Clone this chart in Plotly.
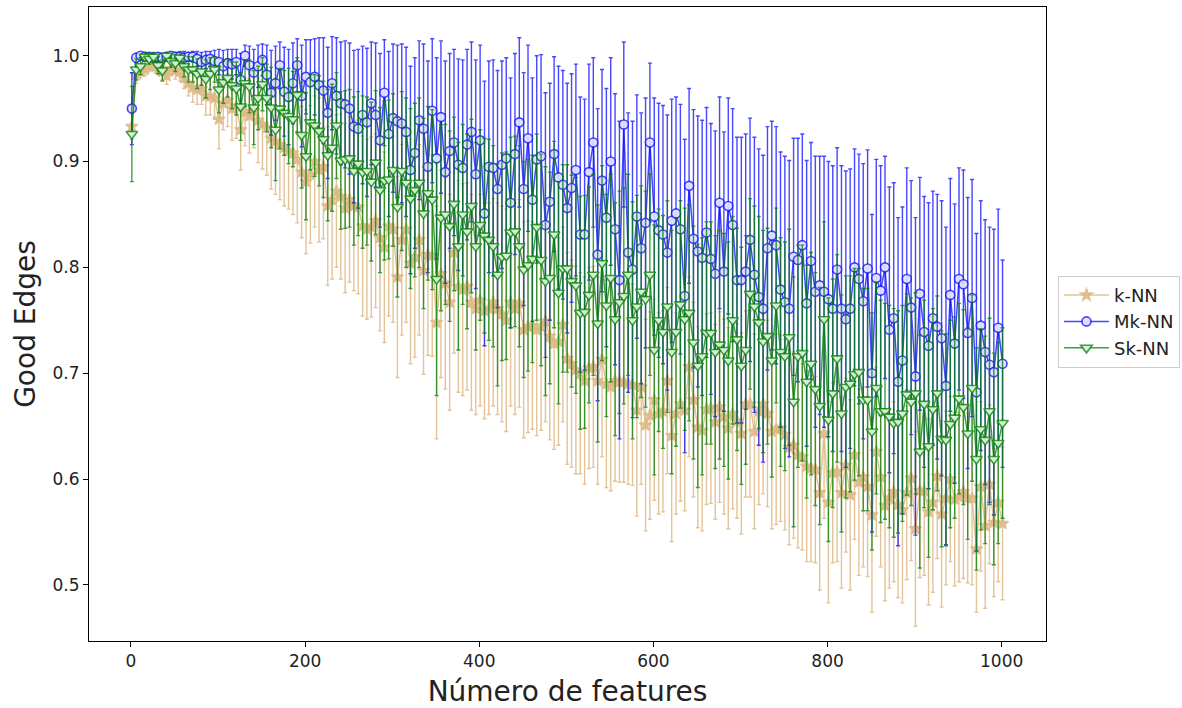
import plotly.graph_objects as go

# Number of features evaluated (every 5 features, from 1 to 1001)
n_features = list(range(1, 1002, 5))

# k-NN: mean fraction of good edges and standard deviation
knn_mean = [
    0.933, 0.982, 0.985, 0.987, 0.990, 0.991, 0.988, 0.985, 0.981, 0.988,
    0.986, 0.985, 0.979, 0.974, 0.970, 0.968, 0.969, 0.962, 0.962, 0.960,
    0.940, 0.955, 0.958, 0.950, 0.952, 0.930, 0.947, 0.943, 0.948, 0.939,
    0.935, 0.932, 0.922, 0.919, 0.916, 0.913, 0.910, 0.908, 0.902, 0.890,
    0.881, 0.888, 0.900, 0.892, 0.895, 0.858, 0.864, 0.872, 0.867, 0.856,
    0.864, 0.858, 0.857, 0.839, 0.836, 0.838, 0.844, 0.828, 0.819, 0.839,
    0.836, 0.791, 0.826, 0.836, 0.804, 0.810, 0.826, 0.797, 0.812, 0.811,
    0.748, 0.794, 0.785, 0.767, 0.814, 0.782, 0.779, 0.782, 0.767, 0.761,
    0.769, 0.759, 0.761, 0.767, 0.761, 0.756, 0.750, 0.767, 0.761, 0.766,
    0.741, 0.744, 0.745, 0.741, 0.744, 0.749, 0.735, 0.728, 0.730, 0.746,
    0.714, 0.709, 0.703, 0.700, 0.693, 0.705, 0.706, 0.693, 0.713, 0.690,
    0.687, 0.693, 0.692, 0.692, 0.690, 0.689, 0.665, 0.687, 0.651, 0.660,
    0.675, 0.662, 0.664, 0.693, 0.641, 0.662, 0.671, 0.665, 0.706, 0.675,
    0.649, 0.646, 0.666, 0.667, 0.654, 0.668, 0.659, 0.648, 0.662, 0.655,
    0.643, 0.671, 0.671, 0.645, 0.664, 0.671, 0.662, 0.645, 0.647, 0.648,
    0.642, 0.630, 0.632, 0.623, 0.621, 0.612, 0.610, 0.609, 0.587, 0.643,
    0.578, 0.606, 0.607, 0.587, 0.613, 0.585, 0.623, 0.597, 0.602, 0.593,
    0.566, 0.626, 0.602, 0.575, 0.582, 0.588, 0.576, 0.571, 0.587, 0.601,
    0.553, 0.589, 0.589, 0.569, 0.578, 0.603, 0.567, 0.582, 0.600, 0.581,
    0.583, 0.588, 0.582, 0.582, 0.534, 0.593, 0.556, 0.595, 0.559, 0.578,
    0.558,
]
knn_std = [
    0.012, 0.008, 0.006, 0.006, 0.005, 0.005, 0.006, 0.008, 0.008, 0.007,
    0.008, 0.009, 0.010, 0.012, 0.014, 0.014, 0.015, 0.018, 0.018, 0.020,
    0.028, 0.025, 0.025, 0.030, 0.030, 0.038, 0.032, 0.035, 0.035, 0.040,
    0.042, 0.045, 0.048, 0.050, 0.052, 0.055, 0.055, 0.058, 0.060, 0.062,
    0.068, 0.065, 0.062, 0.068, 0.068, 0.075, 0.075, 0.072, 0.078, 0.080,
    0.078, 0.080, 0.082, 0.085, 0.085, 0.085, 0.082, 0.088, 0.090, 0.085,
    0.088, 0.095, 0.090, 0.088, 0.095, 0.095, 0.090, 0.098, 0.095, 0.095,
    0.110, 0.098, 0.100, 0.102, 0.095, 0.100, 0.100, 0.098, 0.102, 0.100,
    0.100, 0.102, 0.100, 0.098, 0.100, 0.102, 0.105, 0.098, 0.100, 0.098,
    0.102, 0.100, 0.098, 0.100, 0.098, 0.095, 0.098, 0.100, 0.098, 0.092,
    0.100, 0.098, 0.098, 0.095, 0.098, 0.095, 0.095, 0.098, 0.092, 0.098,
    0.098, 0.095, 0.095, 0.095, 0.095, 0.095, 0.100, 0.092, 0.100, 0.098,
    0.095, 0.095, 0.095, 0.088, 0.100, 0.095, 0.092, 0.095, 0.085, 0.092,
    0.095, 0.095, 0.090, 0.090, 0.092, 0.090, 0.092, 0.095, 0.090, 0.092,
    0.095, 0.088, 0.088, 0.092, 0.088, 0.085, 0.088, 0.092, 0.090, 0.088,
    0.090, 0.092, 0.088, 0.088, 0.088, 0.090, 0.088, 0.088, 0.092, 0.080,
    0.095, 0.085, 0.085, 0.090, 0.082, 0.090, 0.080, 0.088, 0.085, 0.085,
    0.092, 0.080, 0.085, 0.090, 0.085, 0.085, 0.088, 0.088, 0.082, 0.078,
    0.092, 0.082, 0.080, 0.088, 0.085, 0.078, 0.088, 0.082, 0.078, 0.082,
    0.080, 0.082, 0.080, 0.082, 0.060, 0.080, 0.078, 0.075, 0.070, 0.075,
    0.072,
]

# Mk-NN
mknn_mean = [
    0.950, 0.998, 1.000, 0.999, 0.999, 0.998, 0.999, 0.998, 0.999, 1.000,
    0.999, 0.999, 0.998, 0.999, 0.999, 0.997, 0.994, 0.996, 0.997, 0.995,
    0.994, 0.990, 0.993, 0.992, 0.994, 0.977, 1.000, 0.991, 0.984, 0.990,
    0.996, 0.982, 0.965, 0.974, 0.991, 0.966, 0.961, 0.974, 0.991, 0.962,
    0.980, 0.975, 0.980, 0.972, 0.967, 0.946, 0.974, 0.962, 0.955, 0.954,
    0.950, 0.933, 0.931, 0.944, 0.937, 0.955, 0.944, 0.920, 0.965, 0.926,
    0.941, 0.938, 0.936, 0.928, 0.892, 0.908, 0.939, 0.931, 0.895, 0.948,
    0.903, 0.942, 0.890, 0.910, 0.918, 0.897, 0.894, 0.916, 0.928, 0.888,
    0.920, 0.851, 0.895, 0.894, 0.874, 0.897, 0.903, 0.861, 0.907, 0.937,
    0.874, 0.922, 0.864, 0.902, 0.905, 0.840, 0.862, 0.907, 0.885, 0.878,
    0.856, 0.875, 0.892, 0.831, 0.831, 0.890, 0.918, 0.812, 0.882, 0.847,
    0.900, 0.836, 0.788, 0.935, 0.814, 0.798, 0.848, 0.818, 0.842, 0.918,
    0.848, 0.835, 0.831, 0.814, 0.844, 0.851, 0.836, 0.773, 0.877, 0.827,
    0.815, 0.809, 0.833, 0.808, 0.794, 0.861, 0.796, 0.858, 0.840, 0.788,
    0.788, 0.796, 0.826, 0.793, 0.772, 0.761, 0.818, 0.830, 0.821, 0.779,
    0.767, 0.761, 0.810, 0.807, 0.821, 0.766, 0.806, 0.777, 0.783, 0.777,
    0.770, 0.761, 0.798, 0.761, 0.751, 0.761, 0.800, 0.789, 0.768, 0.799,
    0.700, 0.790, 0.778, 0.800, 0.741, 0.752, 0.692, 0.712, 0.789, 0.762,
    0.697, 0.775, 0.739, 0.726, 0.752, 0.744, 0.733, 0.688, 0.774, 0.728,
    0.789, 0.784, 0.738, 0.771, 0.682, 0.745, 0.720, 0.708, 0.701, 0.743,
    0.709,
]
mknn_std = [
    0.034, 0.004, 0.002, 0.003, 0.003, 0.004, 0.003, 0.004, 0.003, 0.002,
    0.004, 0.004, 0.006, 0.004, 0.005, 0.007, 0.009, 0.008, 0.007, 0.010,
    0.012, 0.015, 0.013, 0.014, 0.012, 0.025, 0.010, 0.018, 0.022, 0.020,
    0.015, 0.028, 0.040, 0.035, 0.022, 0.042, 0.045, 0.038, 0.025, 0.048,
    0.035, 0.040, 0.036, 0.045, 0.050, 0.062, 0.044, 0.055, 0.058, 0.060,
    0.062, 0.072, 0.075, 0.065, 0.070, 0.058, 0.068, 0.082, 0.050, 0.078,
    0.070, 0.072, 0.075, 0.080, 0.098, 0.090, 0.075, 0.080, 0.100, 0.068,
    0.095, 0.072, 0.105, 0.092, 0.088, 0.100, 0.102, 0.090, 0.085, 0.108,
    0.090, 0.125, 0.100, 0.102, 0.112, 0.098, 0.095, 0.118, 0.095, 0.080,
    0.110, 0.088, 0.115, 0.098, 0.096, 0.125, 0.112, 0.092, 0.105, 0.108,
    0.118, 0.108, 0.100, 0.130, 0.128, 0.102, 0.080, 0.138, 0.105, 0.122,
    0.098, 0.128, 0.150, 0.078, 0.132, 0.140, 0.115, 0.128, 0.118, 0.075,
    0.112, 0.120, 0.122, 0.130, 0.115, 0.110, 0.118, 0.148, 0.092, 0.122,
    0.128, 0.130, 0.118, 0.128, 0.135, 0.100, 0.132, 0.102, 0.110, 0.135,
    0.135, 0.130, 0.115, 0.130, 0.140, 0.145, 0.115, 0.108, 0.112, 0.130,
    0.138, 0.140, 0.112, 0.115, 0.105, 0.135, 0.112, 0.128, 0.122, 0.128,
    0.130, 0.135, 0.115, 0.135, 0.140, 0.132, 0.112, 0.118, 0.130, 0.112,
    0.150, 0.112, 0.118, 0.105, 0.135, 0.128, 0.155, 0.145, 0.105, 0.120,
    0.150, 0.110, 0.128, 0.135, 0.120, 0.125, 0.130, 0.150, 0.110, 0.132,
    0.105, 0.108, 0.128, 0.112, 0.150, 0.118, 0.125, 0.130, 0.135, 0.112,
    0.098,
]

# Sk-NN
sknn_mean = [
    0.926, 0.987, 0.990, 0.999, 0.997, 0.999, 0.991, 0.986, 1.000, 0.995,
    0.993, 0.998, 0.990, 0.987, 0.987, 0.983, 0.985, 0.978, 0.983, 0.987,
    0.968, 0.975, 0.979, 0.972, 0.969, 0.952, 0.974, 0.971, 0.951, 0.960,
    0.973, 0.960, 0.951, 0.930, 0.950, 0.946, 0.943, 0.940, 0.963, 0.925,
    0.905, 0.937, 0.934, 0.929, 0.921, 0.906, 0.913, 0.934, 0.901, 0.902,
    0.903, 0.891, 0.898, 0.890, 0.891, 0.881, 0.899, 0.873, 0.882, 0.883,
    0.892, 0.857, 0.891, 0.880, 0.865, 0.873, 0.880, 0.851, 0.870, 0.864,
    0.789, 0.847, 0.850, 0.839, 0.860, 0.820, 0.850, 0.834, 0.858, 0.820,
    0.840, 0.830, 0.826, 0.820, 0.793, 0.810, 0.811, 0.833, 0.834, 0.820,
    0.798, 0.802, 0.808, 0.838, 0.807, 0.787, 0.790, 0.831, 0.776, 0.799,
    0.799, 0.787, 0.783, 0.757, 0.758, 0.774, 0.793, 0.747, 0.804, 0.764,
    0.790, 0.751, 0.767, 0.773, 0.793, 0.750, 0.763, 0.777, 0.770, 0.793,
    0.722, 0.750, 0.739, 0.763, 0.720, 0.739, 0.765, 0.751, 0.757, 0.729,
    0.707, 0.716, 0.738, 0.738, 0.720, 0.727, 0.722, 0.712, 0.750, 0.732,
    0.707, 0.722, 0.775, 0.763, 0.748, 0.730, 0.735, 0.712, 0.764, 0.720,
    0.716, 0.734, 0.673, 0.716, 0.719, 0.692, 0.709, 0.685, 0.669, 0.751,
    0.656, 0.681, 0.714, 0.662, 0.687, 0.690, 0.699, 0.701, 0.675, 0.675,
    0.645, 0.686, 0.664, 0.664, 0.659, 0.653, 0.654, 0.662, 0.680, 0.673,
    0.681, 0.626, 0.671, 0.631, 0.666, 0.681, 0.638, 0.637, 0.652, 0.658,
    0.676, 0.668, 0.643, 0.686, 0.619, 0.647, 0.637, 0.664, 0.619, 0.634,
    0.653,
]
sknn_std = [
    0.045, 0.010, 0.008, 0.004, 0.005, 0.004, 0.008, 0.010, 0.003, 0.006,
    0.008, 0.006, 0.010, 0.012, 0.012, 0.014, 0.013, 0.018, 0.015, 0.012,
    0.022, 0.020, 0.018, 0.022, 0.025, 0.032, 0.022, 0.025, 0.035, 0.030,
    0.025, 0.032, 0.038, 0.048, 0.038, 0.040, 0.045, 0.045, 0.035, 0.050,
    0.060, 0.045, 0.048, 0.052, 0.055, 0.062, 0.060, 0.050, 0.065, 0.065,
    0.065, 0.070, 0.068, 0.072, 0.070, 0.075, 0.068, 0.078, 0.075, 0.075,
    0.072, 0.085, 0.075, 0.080, 0.085, 0.082, 0.080, 0.090, 0.082, 0.085,
    0.110, 0.088, 0.085, 0.090, 0.082, 0.098, 0.085, 0.092, 0.082, 0.098,
    0.090, 0.092, 0.095, 0.095, 0.105, 0.098, 0.098, 0.090, 0.090, 0.095,
    0.102, 0.100, 0.098, 0.088, 0.100, 0.108, 0.100, 0.088, 0.105, 0.098,
    0.098, 0.100, 0.102, 0.110, 0.110, 0.102, 0.095, 0.112, 0.092, 0.105,
    0.098, 0.110, 0.105, 0.102, 0.095, 0.112, 0.105, 0.100, 0.102, 0.095,
    0.118, 0.105, 0.110, 0.100, 0.115, 0.108, 0.098, 0.105, 0.102, 0.110,
    0.115, 0.112, 0.105, 0.105, 0.110, 0.108, 0.110, 0.112, 0.098, 0.105,
    0.112, 0.108, 0.090, 0.095, 0.100, 0.105, 0.102, 0.110, 0.092, 0.108,
    0.108, 0.102, 0.118, 0.105, 0.102, 0.110, 0.105, 0.110, 0.112, 0.092,
    0.115, 0.108, 0.098, 0.112, 0.105, 0.102, 0.100, 0.098, 0.105, 0.105,
    0.112, 0.100, 0.105, 0.102, 0.105, 0.108, 0.105, 0.102, 0.095, 0.098,
    0.095, 0.110, 0.098, 0.105, 0.095, 0.092, 0.102, 0.100, 0.098, 0.095,
    0.090, 0.092, 0.100, 0.088, 0.105, 0.095, 0.098, 0.088, 0.100, 0.095,
    0.090,
]

x_ticks = [0, 200, 400, 600, 800, 1000]
y_ticks = [0.5, 0.6, 0.7, 0.8, 0.9, 1.0]

FONT = "DejaVu Sans"

series = [
    dict(name="k-NN", mean=knn_mean, std=knn_std,
         line="rgba(222,184,135,0.85)", fill="rgba(222,184,135,0.85)",
         symbol="star", size=9),
    dict(name="Mk-NN", mean=mknn_mean, std=mknn_std,
         line="rgba(10,10,255,0.75)", fill="rgba(222,222,255,0.95)",
         symbol="circle", size=9),
    dict(name="Sk-NN", mean=sknn_mean, std=sknn_std,
         line="rgba(0,128,0,0.75)", fill="rgba(222,240,222,0.95)",
         symbol="triangle-down", size=10),
]

fig = go.Figure()
for s in series:
    fig.add_trace(go.Scatter(
        x=n_features, y=s["mean"], name=s["name"], mode="lines+markers",
        line=dict(color=s["line"], width=1.5),
        marker=dict(symbol=s["symbol"], size=s["size"], color=s["fill"],
                    line=dict(color=s["line"], width=1.6)),
        error_y=dict(type="data", array=s["std"], visible=True,
                     color=s["line"], thickness=1.4, width=2),
    ))

fig.update_layout(
    width=1182, height=708,
    margin=dict(l=89, r=136, t=7, b=67, autoexpand=False),
    paper_bgcolor="white", plot_bgcolor="white",
    font=dict(family=FONT, size=17, color="black"),
    legend=dict(x=1.0125, y=0.576, xanchor="left", yanchor="top",
                itemwidth=45,
                bgcolor="white", bordercolor="#cccccc", borderwidth=1,
                font=dict(family=FONT, size=18, color="#222222")),
)
fig.update_xaxes(
    range=[-48.2, 1050.9], tickvals=x_ticks, ticks="outside", ticklen=5,
    tickcolor="black", showline=True, linecolor="black", linewidth=1,
    mirror=True, showgrid=False, zeroline=False,
    tickfont=dict(family=FONT, size=17, color="#222222"),
    title=dict(text="Número de features", standoff=10,
               font=dict(family=FONT, size=28, color="#222222")),
)
fig.update_yaxes(
    range=[0.447, 1.046], tickvals=y_ticks, tickformat=".1f",
    ticks="outside", ticklen=5, tickcolor="black", showline=True,
    linecolor="black", linewidth=1, mirror=True, showgrid=False,
    zeroline=False, tickfont=dict(family=FONT, size=17, color="#222222"),
    title=dict(text="Good Edges", standoff=8,
               font=dict(family=FONT, size=28, color="#222222")),
)

fig.write_html("out.html")
